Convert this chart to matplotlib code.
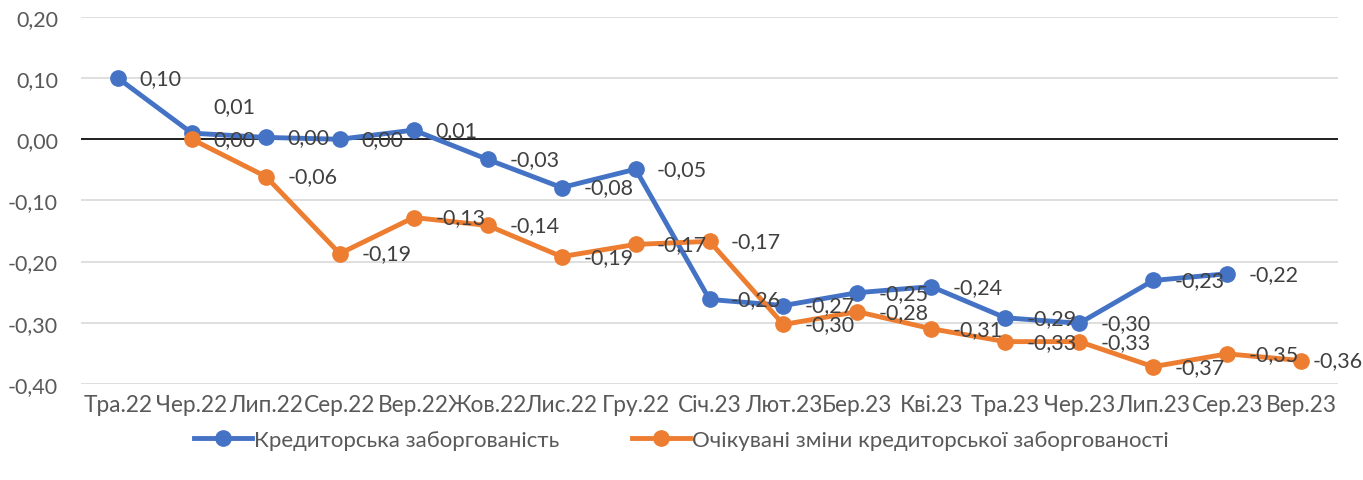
import matplotlib
matplotlib.use("Agg")
import matplotlib.pyplot as plt
import numpy as np

months = ["Тра.22", "Чер.22", "Лип.22", "Сер.22", "Вер.22", "Жов.22", "Лис.22", "Гру.22",
          "Січ.23", "Лют.23", "Бер.23", "Кві.23", "Тра.23", "Чер.23", "Лип.23", "Сер.23", "Вер.23"]
# None = no value for that month
kredyt = [0.10, 0.01, 0.003, 0.0, 0.015, -0.033, -0.079, -0.049, -0.262, -0.272,
          -0.251, -0.241, -0.292, -0.301, -0.231, -0.22, None]
ochik = [None, 0.0, -0.061, -0.187, -0.128, -0.141, -0.192, -0.172, -0.167, -0.303,
         -0.282, -0.31, -0.331, -0.331, -0.372, -0.351, -0.362]
name1 = "Кредиторська заборгованість"
name2 = "Очікувані зміни кредиторської заборгованості"

plt.rcParams['font.family'] = ['Lato', 'DejaVu Sans']

fig = plt.figure(figsize=(13.63, 4.81), dpi=100)
ax = fig.add_axes([0.0594, 0.2, 0.9223, 0.7626])

x = np.arange(len(months))

def fmt(v):
    return f"{v:.2f}".replace(".", ",").replace("-0,00", "0,00")

def draw(vals, color, label):
    xs = [i for i, v in enumerate(vals) if v is not None]
    ys = [v for v in vals if v is not None]
    ax.plot(xs, ys, color=color, lw=3.5, marker='o', ms=11, label=label, zorder=3)
    for xi, yi in zip(xs, ys):
        dy = 0
        dx = 15.5
        if label == name1 and xi == 1:
            dy = 0.045
        if xi == len(months) - 1:
            dx = 8  # last label pushed in to fit
        ax.annotate(fmt(yi), (xi, yi + dy), xytext=(dx, 0), textcoords='offset points',
                    ha='left', va='center', fontsize=15.5, color='#404040', zorder=4)

draw(kredyt, '#4472C4', name1)
draw(ochik, '#ED7D31', name2)

ax.set_xlim(-0.5, len(months) - 0.5)
ax.set_ylim(-0.40, 0.20)
yt = np.arange(-0.4, 0.21, 0.1)
ax.set_yticks(yt)
ax.set_yticklabels([fmt(v) for v in yt])
ax.set_xticks(x)
ax.set_xticklabels(months)
ax.tick_params(length=0, colors='#595959')
ax.tick_params(axis='x', labelsize=16.3, pad=7)
ax.tick_params(axis='y', labelsize=15.5, pad=16.5)
ax.grid(axis='y', color='#D9D9D9', lw=1.2)
ax.set_axisbelow(True)
ax.axhline(0, color='black', lw=1.2, zorder=2)
for s in ax.spines.values():
    s.set_visible(False)

leg = fig.legend(loc='center', bbox_to_anchor=(0.5, 0.083), ncol=2, frameon=False,
                 fontsize=16, handlelength=2.6, handletextpad=0.1, columnspacing=3.3)
for t in leg.get_texts():
    t.set_color('#595959')

fig.savefig("out.png", dpi=100)
